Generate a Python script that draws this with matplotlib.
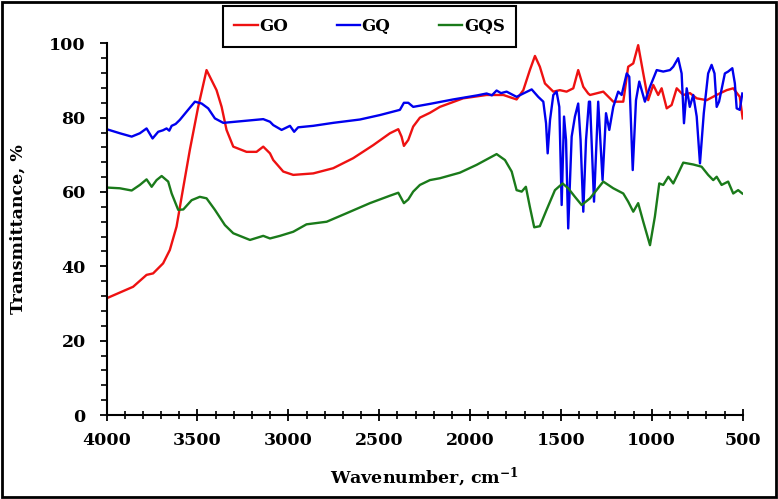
import matplotlib
matplotlib.use("Agg")
from matplotlib import pyplot as plt
from matplotlib.ticker import MultipleLocator
from matplotlib.patches import Rectangle

# GO spectrum (wavenumber cm-1, transmittance %)
go_wn = [4000, 3854, 3780, 3744, 3689, 3652, 3615, 3587, 3542, 3496, 3450, 3395,
         3367, 3340, 3303, 3230, 3175, 3138, 3101, 3083, 3028, 2973, 2863, 2753,
         2643, 2533, 2441, 2395, 2377, 2364, 2340, 2313, 2276, 2221, 2166, 2038,
         1909, 1817, 1744, 1707, 1671, 1643, 1616, 1588, 1542, 1506, 1469, 1432,
         1405, 1377, 1350, 1340, 1267, 1212, 1157, 1130, 1102, 1075, 1047, 1020,
         992, 965, 946, 918, 891, 863, 827, 790, 753, 698, 644, 588, 552, 516, 500]
go_t = [31.4, 34.5, 37.7, 38.1, 40.8, 44.4, 50.7, 58.7, 71.3, 82.9, 92.8, 87.4,
        82.9, 76.7, 72.2, 70.8, 70.8, 72.2, 70.4, 68.6, 65.5, 64.6, 65.0, 66.4,
        69.1, 72.6, 75.8, 76.9, 74.9, 72.4, 74.0, 77.6, 80.0, 81.3, 82.9, 85.2,
        86.1, 86.1, 84.9, 87.4, 92.8, 96.6, 93.7, 89.2, 87.0, 87.4, 87.0, 87.9,
        92.8, 88.3, 86.5, 86.1, 87.0, 84.3, 84.3, 93.7, 94.6, 99.5, 91.9, 84.7,
        88.8, 86.1, 87.9, 82.5, 83.4, 87.9, 86.1, 86.6, 85.2, 84.7, 86.1, 87.4,
        87.9, 85.6, 79.8]

# GQ spectrum
gq_wn = [4000, 3927, 3862, 3817, 3780, 3747, 3716, 3690, 3670, 3655, 3642, 3620,
         3597, 3560, 3514, 3477, 3441, 3404, 3358, 3248, 3138, 3101, 3083, 3037,
         2991, 2968, 2946, 2863, 2753, 2606, 2496, 2386, 2364, 2340, 2313, 2221,
         2093, 1960, 1909, 1880, 1854, 1830, 1799, 1744, 1707, 1661, 1625, 1597,
         1582, 1573, 1560, 1542, 1524, 1509, 1496, 1483, 1472, 1460, 1441, 1423,
         1405, 1392, 1377, 1362, 1346, 1340, 1318, 1295, 1271, 1252, 1234, 1212,
         1185, 1166, 1138, 1124, 1105, 1087, 1069, 1038, 1010, 973, 937, 900,
         882, 855, 836, 823, 808, 791, 772, 753, 735, 714, 690, 671, 655, 643,
         630, 598, 580, 557, 543, 533, 516, 502]
gq_t = [76.9, 75.8, 74.9, 75.8, 77.1, 74.4, 76.2, 76.6, 77.1, 76.5, 77.8, 78.3,
        79.4, 81.6, 84.3, 83.8, 82.5, 79.8, 78.6, 79.1, 79.6, 78.9, 78.0, 76.7,
        77.8, 76.2, 77.4, 77.8, 78.6, 79.5, 80.7, 82.1, 84.0, 84.0, 82.9, 83.7,
        84.9, 86.0, 86.5, 86.0, 87.3, 86.6, 87.0, 85.6, 86.5, 87.6, 85.6, 84.3,
        78.5, 70.4, 79.4, 86.1, 87.0, 82.9, 56.5, 80.3, 74.0, 50.2, 74.9, 80.3,
        83.8, 74.0, 54.7, 74.0, 84.3, 84.3, 57.4, 84.3, 63.2, 81.2, 76.7, 82.9,
        87.0, 86.1, 91.9, 91.0, 65.9, 84.7, 89.7, 84.3, 88.3, 92.8, 92.4, 92.8,
        93.7, 96.0, 91.9, 78.5, 87.9, 82.9, 86.1, 80.3, 67.7, 81.2, 91.9, 94.2,
        91.9, 82.9, 84.3, 91.9, 92.4, 93.3, 89.2, 82.5, 82.1, 86.5]

# GQS spectrum
gqs_wn = [4000, 3927, 3862, 3817, 3780, 3752, 3725, 3697, 3661, 3642, 3606, 3578,
          3532, 3487, 3450, 3404, 3349, 3303, 3211, 3138, 3101, 3046, 2973, 2900,
          2789, 2679, 2551, 2441, 2395, 2364, 2340, 2313, 2276, 2221, 2166, 2056,
          1964, 1854, 1808, 1771, 1744, 1716, 1693, 1671, 1647, 1616, 1579, 1533,
          1491, 1460, 1423, 1386, 1340, 1267, 1212, 1157, 1130, 1102, 1075, 1047,
          1010, 983, 959, 937, 909, 882, 855, 827, 772, 726, 690, 662, 643, 616,
          580, 552, 525, 502]
gqs_t = [61.2, 61.0, 60.4, 61.9, 63.4, 61.4, 63.2, 64.3, 62.8, 59.6, 55.2, 55.3,
         57.8, 58.7, 58.3, 55.2, 51.1, 48.9, 47.1, 48.2, 47.5, 48.2, 49.3, 51.3,
         52.0, 54.3, 57.0, 59.0, 59.8, 57.0, 58.0, 60.1, 61.9, 63.2, 63.7, 65.2,
         67.3, 70.2, 68.6, 65.5, 60.5, 60.1, 61.4, 56.0, 50.5, 50.8, 55.2, 60.5,
         62.3, 61.0, 58.7, 56.5, 58.3, 62.8, 61.0, 59.6, 57.4, 54.7, 57.0, 52.0,
         45.7, 53.4, 62.3, 61.9, 64.1, 62.3, 65.0, 67.9, 67.4, 66.8, 64.6, 63.2,
         64.1, 61.9, 62.8, 59.6, 60.5, 59.6]

plt.rcParams['font.family'] = 'DejaVu Serif'
plt.rcParams['font.weight'] = 'bold'
plt.rcParams['mathtext.fontset'] = 'dejavuserif'
plt.rcParams['mathtext.default'] = 'bf'

fig = plt.figure(figsize=(7.78, 4.99), dpi=100)
ax = fig.add_axes([0.137, 0.1683, 0.8176, 0.7449])

ax.plot(go_wn, go_t, color='#ee1111', lw=1.7, label='GO')
ax.plot(gq_wn, gq_t, color='#0000ee', lw=1.7, label='GQ')
ax.plot(gqs_wn, gqs_t, color='#1a7a1a', lw=1.7, label='GQS')

ax.set_xlim(4000, 500)
ax.set_ylim(0, 100)
ax.xaxis.set_major_locator(MultipleLocator(500))
ax.xaxis.set_minor_locator(MultipleLocator(100))
ax.yaxis.set_major_locator(MultipleLocator(20))
ax.yaxis.set_minor_locator(MultipleLocator(4))

for s in ['top', 'right']:
    ax.spines[s].set_visible(False)
for s in ['left', 'bottom']:
    ax.spines[s].set_linewidth(1.5)

ax.tick_params(axis='y', which='major', direction='out', length=5, width=1.3, labelsize=12.5, pad=10)
ax.tick_params(axis='y', which='minor', direction='out', length=4, width=1.2)
ax.tick_params(axis='x', which='major', direction='inout', length=8, width=1.3, labelsize=12.5, pad=8)
ax.tick_params(axis='x', which='minor', direction='inout', length=6, width=1.2)

ax.set_xlabel('Wavenumber, cm$^{-1}$', fontsize=12.5, fontweight='bold', labelpad=12)
ax.set_ylabel('Transmittance, %', fontsize=12.5, fontweight='bold', labelpad=16)

leg = fig.legend(loc='upper center', bbox_to_anchor=(0.475, 1.004), ncol=3,
                 fontsize=12, handlelength=1.4, handletextpad=0.1, columnspacing=2.9,
                 fancybox=False, edgecolor='black', framealpha=1, borderpad=0.7)
leg.get_frame().set_linewidth(1.5)
for t in leg.get_texts():
    t.set_fontweight('bold')

fig.patches.append(Rectangle((0.003, 0.004), 0.994, 0.992, transform=fig.transFigure,
                             fill=False, edgecolor='black', linewidth=2))

fig.savefig('out.png', dpi=100)
